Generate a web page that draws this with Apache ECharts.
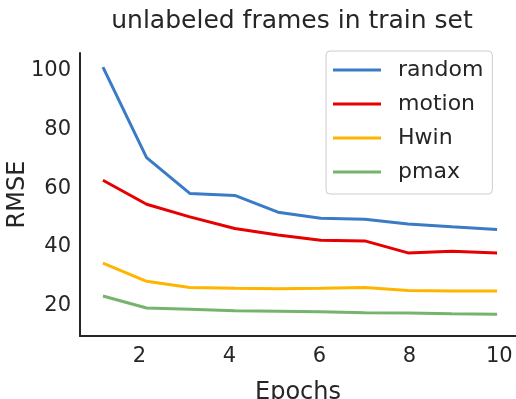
<!DOCTYPE html>
<html>
<head>
<meta charset="utf-8">
<script src="https://cdn.jsdelivr.net/npm/echarts@6/dist/echarts.min.js"></script>
<style>
  html, body { margin: 0; padding: 0; background: #ffffff; }
  #chart { width: 516px; height: 399px; }
</style>
</head>
<body>
<div id="chart"></div>
<script>
// Training epochs (x positions of each measurement)
const epochs = [1.19, 2.16, 3.12, 4.12, 5.08, 6.03, 7.01, 7.97, 8.94, 9.95];

// RMSE per selection strategy
const randomRmse = [101.3, 70.4, 58.2, 57.5, 51.8, 49.7, 49.4, 47.8, 46.8, 45.9];
const motionRmse = [62.7, 54.5, 50.2, 46.2, 44.0, 42.2, 42.0, 37.9, 38.5, 37.9];
const hwinRmse   = [34.4, 28.2, 26.1, 25.8, 25.7, 25.8, 26.1, 25.1, 24.9, 24.9];
const pmaxRmse   = [23.2, 19.1, 18.7, 18.2, 18.0, 17.8, 17.5, 17.4, 17.1, 17.0];

const seriesNames = ['random', 'motion', 'Hwin', 'pmax'];
const seriesValues = [randomRmse, motionRmse, hwinRmse, pmaxRmse];
const seriesColors = ['#3a7bc6', '#e60000', '#ffb400', '#76b46e'];

const xTicks = [2, 4, 6, 8, 10];
const yTicks = [20, 40, 60, 80, 100];

const textColor = '#262626';
const fontFamily = 'DejaVu Sans';

const chart = echarts.init(document.getElementById('chart'), null, { renderer: 'canvas' });

chart.setOption({
  animation: false,
  backgroundColor: '#ffffff',
  textStyle: { fontFamily: fontFamily, color: textColor },
  title: {
    text: 'unlabeled frames in train set',
    left: 287,
    textAlign: 'center',
    top: 4,
    textStyle: { fontFamily: fontFamily, fontSize: 25, fontWeight: 'normal', color: textColor }
  },
  grid: { left: 80, right: 0, top: 53, bottom: 63, containLabel: false, outerBoundsMode: 'none' },
  legend: {
    data: seriesNames,
    orient: 'vertical',
    left: 326,
    top: 51,
    icon: 'rect',
    itemWidth: 48,
    itemHeight: 3,
    itemGap: 12,
    padding: [8, 9, 11, 7],
    backgroundColor: '#ffffff',
    borderColor: '#cccccc',
    borderWidth: 1,
    borderRadius: 4,
    textStyle: { fontFamily: fontFamily, fontSize: 22, color: textColor, padding: [0, 0, 0, 12] }
  },
  xAxis: {
    type: 'value',
    min: 0.68,
    max: 10.37,
    name: 'Epochs',
    nameLocation: 'middle',
    nameGap: 45,
    nameTextStyle: { fontFamily: fontFamily, fontSize: 24, color: textColor },
    axisLine: { show: true, onZero: false, lineStyle: { color: textColor, width: 2 } },
    axisTick: { show: false },
    splitLine: { show: false },
    axisLabel: { customValues: xTicks, fontFamily: fontFamily, fontSize: 21, color: textColor, margin: 10 }
  },
  yAxis: {
    type: 'value',
    min: 9.55,
    max: 106.1,
    name: 'RMSE',
    nameLocation: 'middle',
    nameGap: 50,
    nameMoveOverlap: false,
    nameTextStyle: { fontFamily: fontFamily, fontSize: 24, color: textColor },
    axisLine: { show: true, onZero: false, lineStyle: { color: textColor, width: 2 } },
    axisTick: { show: false },
    splitLine: { show: false },
    axisLabel: { customValues: yTicks, fontFamily: fontFamily, fontSize: 21, color: textColor, margin: 9 }
  },
  series: seriesNames.map((name, i) => ({
    name: name,
    type: 'line',
    data: epochs.map((x, j) => [x, seriesValues[i][j]]),
    showSymbol: false,
    symbol: 'none',
    color: seriesColors[i],
    lineStyle: { color: seriesColors[i], width: 3 },
    itemStyle: { color: seriesColors[i] },
    z: 2
  }))
});
</script>
</body>
</html>
